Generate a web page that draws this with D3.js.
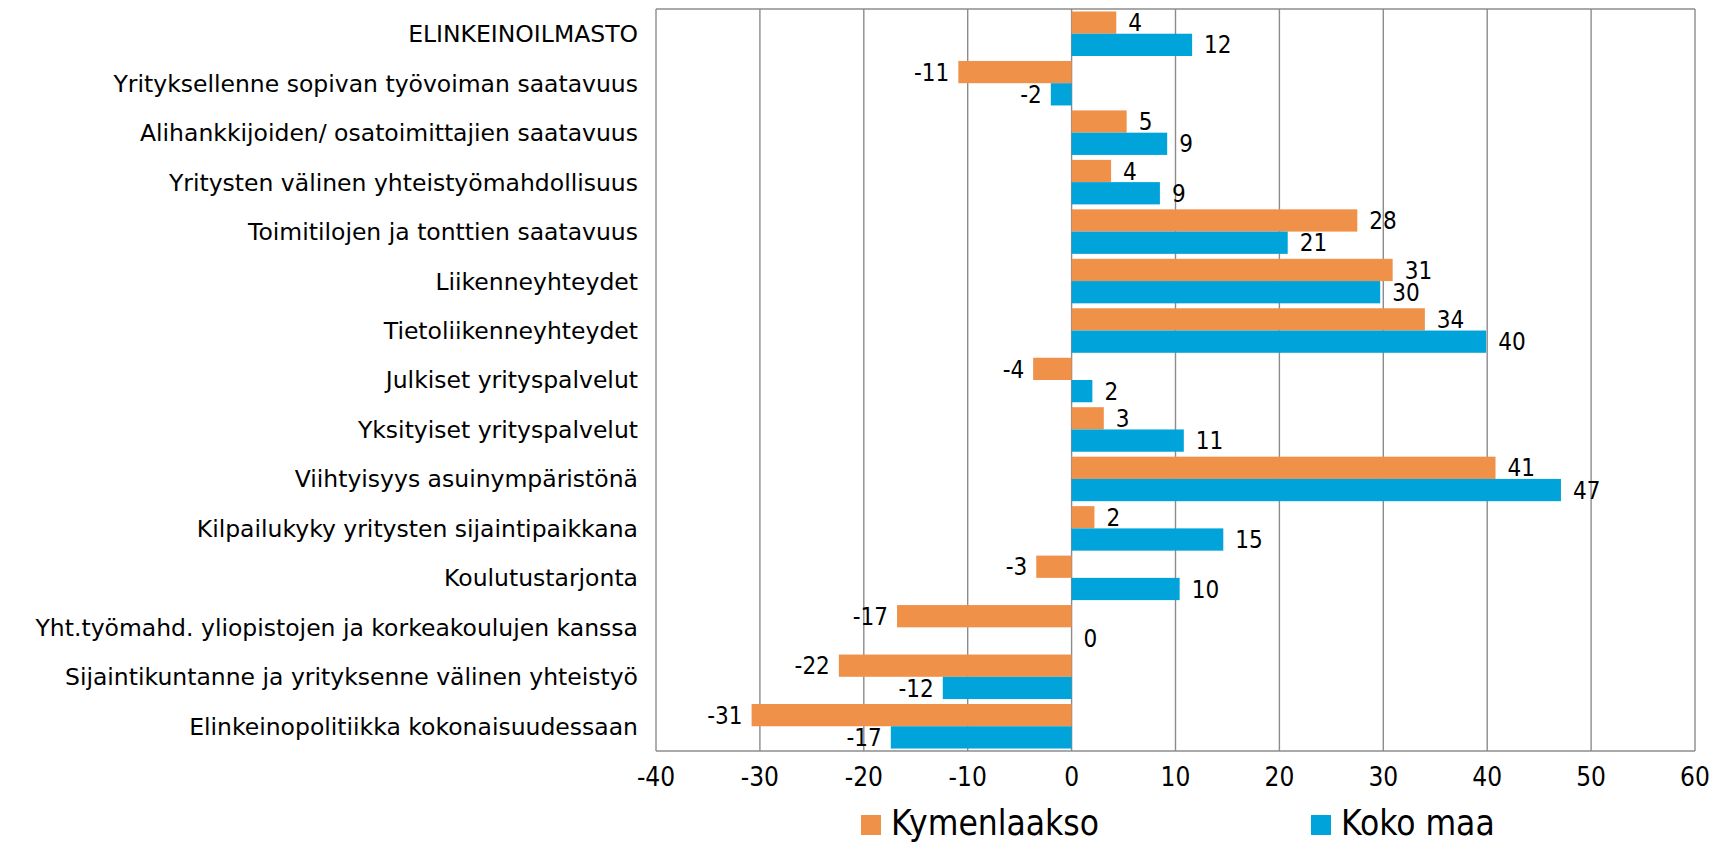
<!DOCTYPE html>
<html>
<head>
<meta charset="utf-8">
<script src="https://cdn.jsdelivr.net/npm/d3@7"></script>
<style>
  body { margin: 0; background: #ffffff; }
  text { font-family: "DejaVu Sans", sans-serif; }
  .cond { font-family: "DejaVu Sans Condensed", "DejaVu Sans", sans-serif; font-stretch: condensed; }
</style>
</head>
<body>
<div id="chart"></div>
<script>
var categories = [
    "ELINKEINOILMASTO",
    "Yrityksellenne sopivan työvoiman saatavuus",
    "Alihankkijoiden/ osatoimittajien saatavuus",
    "Yritysten välinen yhteistyömahdollisuus",
    "Toimitilojen ja tonttien saatavuus",
    "Liikenneyhteydet",
    "Tietoliikenneyhteydet",
    "Julkiset yrityspalvelut",
    "Yksityiset yrityspalvelut",
    "Viihtyisyys asuinympäristönä",
    "Kilpailukyky yritysten sijaintipaikkana",
    "Koulutustarjonta",
    "Yht.työmahd. yliopistojen ja korkeakoulujen kanssa",
    "Sijaintikuntanne ja yrityksenne välinen yhteistyö",
    "Elinkeinopolitiikka kokonaisuudessaan"
];
var seriesNames = ["Kymenlaakso", "Koko maa"];
var kymenlaakso = [4.3, -10.9, 5.3, 3.8, 27.5, 30.9, 34.0, -3.7, 3.1, 40.8, 2.2, -3.4, -16.8, -22.4, -30.8];
var kokoMaa = [11.6, -2.0, 9.2, 8.5, 20.8, 29.7, 39.9, 2.0, 10.8, 47.1, 14.6, 10.4, 0.0, -12.4, -17.4];
var xTicks = [-40, -30, -20, -10, 0, 10, 20, 30, 40, 50, 60];
var colors = ["#F0914A", "#00A4DA"];

drawBarChart();

function drawBarChart() {
    var w = 1711, h = 842;
    var left = 656, right = 1695, top = 9, bottom = 751;
    var svg = d3.select("#chart").append("svg").attr("width", w).attr("height", h).style("background", "#ffffff");

    var x = d3.scaleLinear().domain([-40, 60]).range([left, right]);
    var y = d3.scaleBand().domain(categories).range([top, bottom]).paddingInner(0.1).paddingOuter(0.05);
    var ySub = d3.scaleBand().domain(seriesNames).range([0, y.bandwidth()]);

    // grid + frame
    svg.append("g").selectAll("line").data(xTicks).enter()
        .append("line")
        .attr("x1", d => x(d)).attr("x2", d => x(d))
        .attr("y1", top).attr("y2", bottom)
        .attr("stroke", "#8c8c8c").attr("stroke-width", 1.4);
    svg.append("line").attr("x1", left).attr("x2", right).attr("y1", top).attr("y2", top)
        .attr("stroke", "#8c8c8c").attr("stroke-width", 1.4);
    svg.append("line").attr("x1", left).attr("x2", right).attr("y1", bottom).attr("y2", bottom)
        .attr("stroke", "#8c8c8c").attr("stroke-width", 1.4);

    var rows = categories.map((c, i) => ({cat: c, vals: [kymenlaakso[i], kokoMaa[i]]}));

    var g = svg.append("g").selectAll("g").data(rows).enter().append("g")
        .attr("transform", d => "translate(0," + y(d.cat) + ")");

    g.selectAll("rect").data(d => d.vals.map((v, k) => ({k: k, v: v}))).enter()
        .append("rect")
        .attr("x", d => x(Math.min(0, d.v)))
        .attr("width", d => Math.abs(x(d.v) - x(0)))
        .attr("y", d => ySub(seriesNames[d.k]))
        .attr("height", ySub.bandwidth())
        .attr("fill", d => colors[d.k]);

    g.selectAll("text.val").data(d => d.vals.map((v, k) => ({k: k, v: v}))).enter()
        .append("text")
        .attr("class", "val cond")
        .attr("x", d => d.v < 0 ? x(d.v) - 9 : x(d.v) + 12)
        .attr("y", d => ySub(seriesNames[d.k]) + ySub.bandwidth() / 2)
        .attr("dy", "0.36em")
        .attr("text-anchor", d => d.v < 0 ? "end" : "start")
        .attr("font-size", "24px")
        .attr("fill", "#000")
        .text(d => String(Math.round(d.v)));

    // category labels
    svg.append("g").selectAll("text").data(categories).enter()
        .append("text")
        .attr("x", 638)
        .attr("y", d => y(d) + y.bandwidth() / 2)
        .attr("dy", "0.36em")
        .attr("text-anchor", "end")
        .attr("font-size", "23.5px")
        .attr("fill", "#000")
        .text(d => d);

    // x axis labels
    svg.append("g").selectAll("text").data(xTicks).enter()
        .append("text")
        .attr("class", "cond")
        .attr("x", d => x(d))
        .attr("y", 777)
        .attr("dy", "0.36em")
        .attr("text-anchor", "middle")
        .attr("font-size", "26px")
        .attr("fill", "#000")
        .text(d => d);

    // legend
    var legX = [861, 1311];
    var leg = svg.append("g").selectAll("g").data(seriesNames).enter().append("g")
        .attr("transform", (d, i) => "translate(" + legX[i] + ",0)");
    leg.append("rect").attr("x", 0).attr("y", 815).attr("width", 20).attr("height", 20)
        .attr("fill", (d, i) => colors[i]);
    leg.append("text").attr("class", "cond").attr("x", 30).attr("y", 835)
        .attr("font-size", "35px").attr("fill", "#000")
        .text(d => d);
}
</script>
</body>
</html>
